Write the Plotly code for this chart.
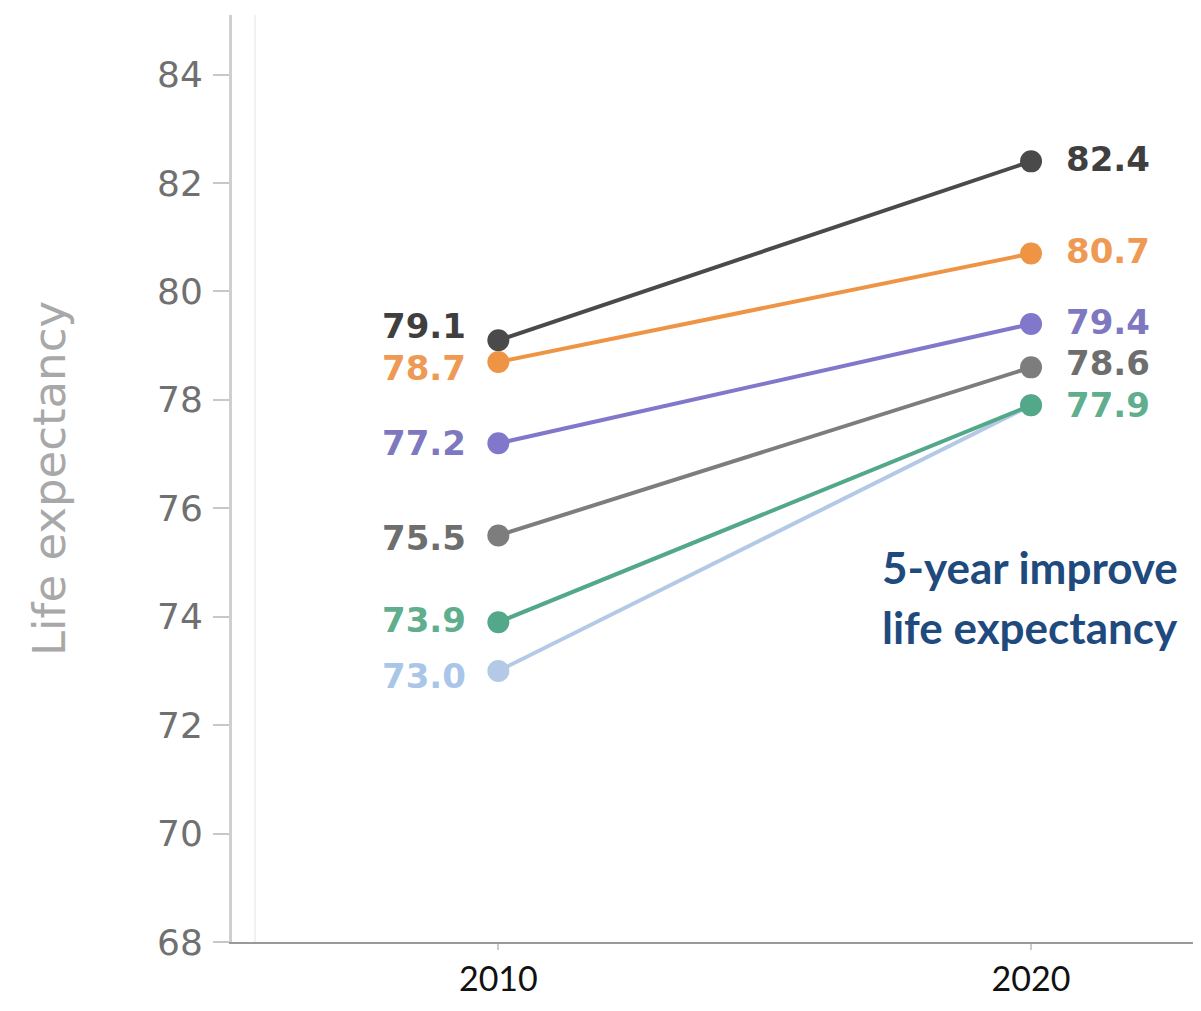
import plotly.graph_objects as go

years = [2010, 2020]
series_names = ["A", "B", "C", "D", "E", "F"]
values_2010 = [73.0, 79.1, 78.7, 77.2, 75.5, 73.9]
values_2020 = [77.9, 82.4, 80.7, 79.4, 78.6, 77.9]
show_right_label = [False, True, True, True, True, True]
y_ticks = [68, 70, 72, 74, 76, 78, 80, 82, 84]
note_lines = ["5-year improve", "life expectancy"]

line_colors = ["#b3c9e6", "#4a4a4a", "#ef9444", "#8178cc", "#7d7d7d", "#52a888"]
label_colors = ["#a9c6e8", "#3f3f3f", "#ee9a55", "#7d78c0", "#6e6e6e", "#5fae8e"]
left_label_yshift = [-5, 14, -6, 0, -3, 2]
right_label_yshift = [0, 2, 3, 2, 4, 0]
note_y = [0.4045, 0.3398]

fig = go.Figure()
for i, name in enumerate(series_names):
    fig.add_trace(go.Scatter(
        x=years, y=[values_2010[i], values_2020[i]],
        mode="lines+markers", name=name,
        line=dict(color=line_colors[i], width=4),
        marker=dict(color=line_colors[i], size=22),
        showlegend=False, hoverinfo="skip",
    ))
    fig.add_annotation(x=years[0], y=values_2010[i], text=f"{values_2010[i]:.1f}",
                       xanchor="right", yanchor="middle", showarrow=False,
                       xshift=-30, yshift=left_label_yshift[i],
                       font=dict(family="DejaVu Sans", size=34, color=label_colors[i], weight="bold"))
    if show_right_label[i]:
        fig.add_annotation(x=years[1], y=values_2020[i], text=f"{values_2020[i]:.1f}",
                           xanchor="left", yanchor="middle", showarrow=False,
                           xshift=33, yshift=right_label_yshift[i],
                           font=dict(family="DejaVu Sans", size=34, color=label_colors[i], weight="bold"))

for txt, yy in zip(note_lines, note_y):
    fig.add_annotation(xref="paper", yref="paper", x=0.6785, y=yy, text=txt,
                       xanchor="left", yanchor="middle", align="left", showarrow=False,
                       xshift=-4,
                       font=dict(family="Lato", size=44, color="#1f4a7e", weight="bold"))

# faint secondary vertical guide next to the y axis
fig.add_shape(type="line", xref="paper", yref="paper", x0=0.024, x1=0.024, y0=0, y1=1,
              line=dict(color="#f0f0f0", width=2), layer="below")

fig.update_layout(
    width=1185, height=995,
    margin=dict(l=224, r=0, t=7, b=61),
    paper_bgcolor="white", plot_bgcolor="white",
    xaxis=dict(range=[2005.0, 2023.04], tickvals=years, ticktext=[str(y) for y in years],
               automargin=False,
               showgrid=False, zeroline=False, showline=True, linecolor="#9a9a9a", linewidth=2,
               ticks="outside", ticklen=6, tickcolor="#cccccc", tickwidth=2,
               ticklabelstandoff=0,
               tickfont=dict(family="Lato", size=34, color="#111111")),
    yaxis=dict(range=[68, 85.1], tickvals=y_ticks,
               automargin=False,
               showgrid=False, zeroline=False, showline=True, linecolor="#cfcfcf", linewidth=3,
               ticks="outside", ticklen=16, tickcolor="#c8c8c8", tickwidth=2,
               ticklabelstandoff=3,
               tickfont=dict(family="DejaVu Sans", size=36, color="#707070"),
               title=dict(text="Life expectancy", standoff=78,
                          font=dict(family="DejaVu Sans", size=45, color="#a8a8a8"))),
)

fig.write_html("out.html")
